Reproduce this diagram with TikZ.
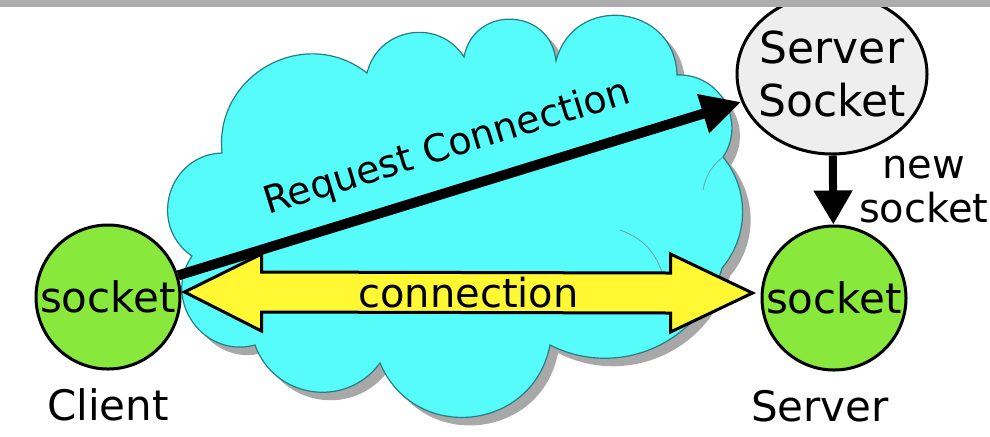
\documentclass[tikz,border=0pt]{standalone}
\usepackage{fontspec}
\setmainfont{DejaVu Sans}
\usepackage{xcolor}
\usetikzlibrary{arrows.meta,positioning,calc,shapes.geometric}
\definecolor{cloudcyan}{RGB}{85,252,250}
\definecolor{cloudedge}{RGB}{40,125,130}
\definecolor{sockgreen}{RGB}{136,232,60}
\definecolor{connyellow}{RGB}{255,248,50}
\definecolor{srvgray}{RGB}{238,238,238}
\newcommand{\cloudpath}{(192,256) to[bend left=72,looseness=1.29] (222,153)
  to[bend left=67,looseness=1.22] (367,73) to[bend left=67,looseness=1.22] (464,57)
  to[bend left=82,looseness=1.49] (556,61) to[bend left=82,looseness=1.49] (677,75)
  to[bend left=63,looseness=1.17] (723,157) to[bend left=40,looseness=0.96] (722,268)
  to[bend left=51,looseness=1.05] (550,345)
  to[bend left=73,looseness=1.32] (380,363) to[bend left=62,looseness=1.16] (255,345)
  to[bend left=70,looseness=1.25] cycle}

\begin{document}
\begin{tikzpicture}[x=0.5pt,y=-0.5pt,>=Stealth]
  \tikzstyle{sock}=[circle,draw,line width=1.5pt,fill=sockgreen,minimum size=72pt,inner sep=0pt,font=\fontsize{21}{24}\selectfont]
  \tikzstyle{lbl}=[inner sep=0pt,font=\fontsize{21}{24}\selectfont]
  \useasboundingbox (0,0) rectangle (990,436);
  % cloud and its shadow
  \fill[gray!68,shift={(8,8)}] \cloudpath;
  \filldraw[fill=cloudcyan,draw=cloudedge,line width=0.6pt] \cloudpath;
  \draw[cloudedge!70,line width=0.4pt] (723,157) to[bend right=20] (703,190);
  \draw[cloudedge!70,line width=0.4pt] (620,230) to[bend left=25] (662,272);
  \node[sock] (client) at (108,297) {socket};
  \node[sock] (server) at (834,298) {socket};
  \node[ellipse,draw,line width=1.5pt,fill=srvgray,minimum width=95pt,minimum height=80pt,inner xsep=-6pt,inner ysep=0pt,
        align=center,font=\fontsize{22}{26.5}\selectfont] (srvsock) at (832,74) {Server\\Socket};
  \node[lbl,below=9pt of client] (clientlbl) {Client};
  \node[lbl,below=9pt of server,xshift=-7pt] (serverlbl) {Server};
  \draw[line width=5pt,-{Triangle[length=20pt,width=19pt]}] (client) -- (srvsock)
    node[midway,above=6pt,sloped,font=\fontsize{19}{22}\selectfont] (reqlbl) {Request Connection};
  \draw[line width=4pt,-{Triangle[length=17pt,width=18.5pt]}] (srvsock) -- (server)
    node[midway,right=11pt,inner sep=0pt,align=center,font=\fontsize{20}{22}\selectfont] (newlbl) {new\\socket};
  % yellow double arrow
  \coordinate (ltip) at ($(client.east)+(3,-5)$);
  \coordinate (rtip) at ($(server.west)+(-8,-5)$);
  \draw[line width=1.5pt,fill=connyellow,line join=miter] (ltip) -- ++(77,-38) -- ++(0,18)
    -- ($(rtip)+(-82,-20)$) -- ++(0,-19) -- (rtip) -- ++(-82,39) -- ++(0,-19)
    -- ($(ltip)+(77,20)$) -- ++(0,19) -- cycle;
  \node[lbl,font=\fontsize{20}{24}\selectfont] (connlbl) at ($(ltip)!0.5!(rtip)$) {connection};
  \fill[gray!65] (0,0) rectangle (990,7);
\end{tikzpicture}
\end{document}
